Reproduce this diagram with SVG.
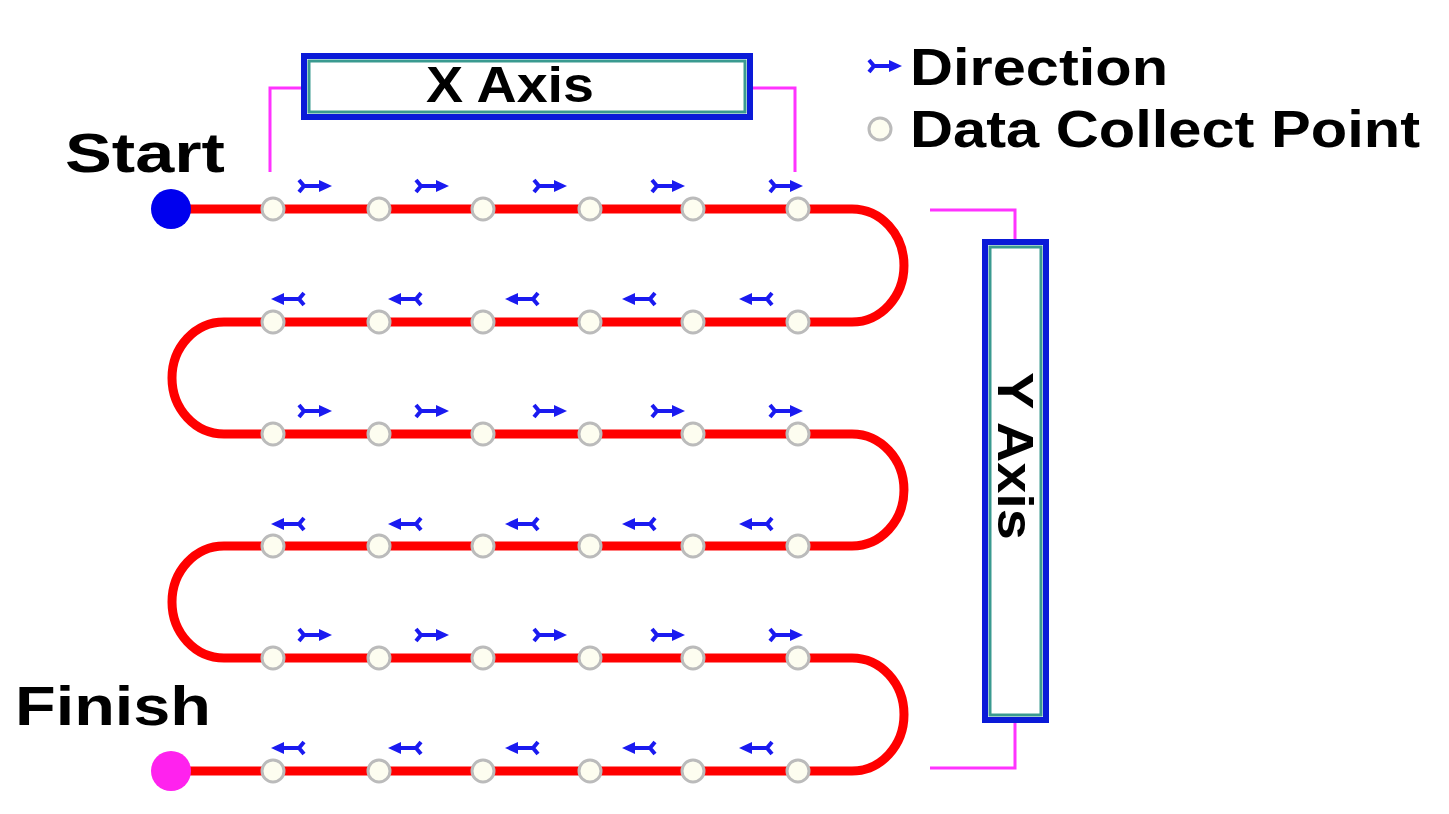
<svg xmlns="http://www.w3.org/2000/svg" width="1449" height="814" viewBox="0 0 1449 814">
<defs>
<style>
.t{font-family:"Liberation Sans",Arial,sans-serif;font-weight:bold;fill:#000}
.path{fill:none;stroke:#f00;stroke-width:9}
.pt{fill:#fdfdf0;stroke:#bbb;stroke-width:3}
.lead{fill:none;stroke:#f3f;stroke-width:3}
.box{fill:#fff;stroke:#0a1ad8;stroke-width:6}
.inner{fill:none;stroke:#3a9a90;stroke-width:3}
.ar{stroke:#1a1af0;stroke-width:4;fill:none}
</style>
<g id="ra"><path class="ar" d="M-16,-6 L-11,0 L-16,6 M-11,0 H10"/><path d="M4,-6 L17,0 L4,6Z" fill="#1a1af0"/></g>
<g id="la"><use href="#ra" transform="scale(-1,1)"/></g>
</defs>
<g id="connectors">
<path class="path" d="M171,209 H852 A52,56.5 0 0 1 852,322 H224 A52,56 0 0 0 224,434 H852 A52,56 0 0 1 852,546 H224 A52,56 0 0 0 224,658 H852 A52,56.5 0 0 1 852,771 H171"/>
<path class="lead" d="M302,88 H270 V172 M752,88 H795 V172"/>
<path class="lead" d="M1015,240 V210 H930 M1015,722 V768 H930"/>
</g>
<g id="start"><circle cx="171" cy="209" r="20" fill="#0000ee"/><text class="t" x="65" y="172" font-size="56" textLength="160" lengthAdjust="spacingAndGlyphs">Start</text></g>
<g id="finish"><circle cx="171" cy="771" r="20" fill="#ff22ee"/><text class="t" x="15" y="725" font-size="56" textLength="196" lengthAdjust="spacingAndGlyphs">Finish</text></g>
<g id="points">
<g id="r1"><circle class="pt" cx="273" cy="209" r="11"/><circle class="pt" cx="379" cy="209" r="11"/><circle class="pt" cx="483" cy="209" r="11"/><circle class="pt" cx="590" cy="209" r="11"/><circle class="pt" cx="693" cy="209" r="11"/><circle class="pt" cx="798" cy="209" r="11"/></g>
<use href="#r1" y="113"/><use href="#r1" y="225"/><use href="#r1" y="337"/><use href="#r1" y="449"/><use href="#r1" y="562"/>
</g>
<g id="arrows">
<g id="ar1"><use href="#ra" x="315" y="186"/><use href="#ra" x="432" y="186"/><use href="#ra" x="550" y="186"/><use href="#ra" x="668" y="186"/><use href="#ra" x="786" y="186"/></g>
<g id="al1"><use href="#la" x="288" y="299"/><use href="#la" x="405" y="299"/><use href="#la" x="522" y="299"/><use href="#la" x="639" y="299"/><use href="#la" x="756" y="299"/></g>
<use href="#ar1" y="225"/><use href="#ar1" y="449"/>
<use href="#al1" y="225"/><use href="#al1" y="449"/>
</g>
<g id="xaxis"><rect class="box" x="304" y="56" width="446" height="61"/><rect class="inner" x="309" y="61" width="436" height="51"/><text class="t" x="510" y="102" font-size="50" text-anchor="middle" textLength="168" lengthAdjust="spacingAndGlyphs">X Axis</text></g>
<g id="yaxis"><rect class="box" x="985" y="242" width="61" height="478"/><rect class="inner" x="990" y="247" width="51" height="468"/><text class="t" font-size="50" text-anchor="middle" textLength="168" lengthAdjust="spacingAndGlyphs" transform="translate(998,456) rotate(90)">Y Axis</text></g>
<g id="legend">
<use href="#ra" x="885" y="66"/><text class="t" x="910" y="85" font-size="52" textLength="258" lengthAdjust="spacingAndGlyphs">Direction</text>
<circle class="pt" cx="880" cy="129" r="11"/><text class="t" x="910" y="147" font-size="52" textLength="510" lengthAdjust="spacingAndGlyphs">Data Collect Point</text>
</g>
</svg>
